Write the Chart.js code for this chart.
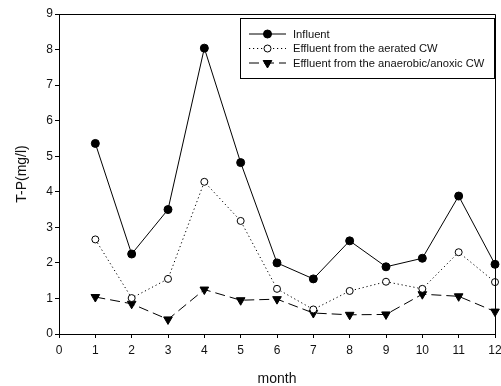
<!DOCTYPE html>
<html>
<head>
<meta charset="utf-8">
<script src="https://cdn.jsdelivr.net/npm/chart.js@4/dist/chart.umd.min.js"></script>
<style>
  html, body { margin: 0; padding: 0; background: #fff; }
  #wrap { width: 501px; height: 386px; }
</style>
</head>
<body>
<div id="wrap"><canvas id="c" width="501" height="386"></canvas></div>
<script>
const months = [1, 2, 3, 4, 5, 6, 7, 8, 9, 10, 11, 12];
const influent = [5.36, 2.25, 3.50, 8.04, 4.82, 2.00, 1.55, 2.62, 1.89, 2.13, 3.88, 1.96];
const aerated = [2.66, 1.01, 1.55, 4.28, 3.18, 1.27, 0.69, 1.21, 1.47, 1.27, 2.30, 1.46];
const anaerobic = [1.04, 0.85, 0.41, 1.25, 0.95, 0.98, 0.59, 0.54, 0.55, 1.12, 1.06, 0.63];

const seriesNames = [
  'Influent',
  'Effluent from the aerated CW',
  'Effluent from the anaerobic/anoxic CW',
];

function toPoints(values) {
  return months.map((m, i) => ({ x: m, y: values[i] }));
}

// frame on top and right + the boxed legend inside the plot
const framePlugin = {
  id: 'frame',
  afterDraw(chart) {
    const { ctx, chartArea: a } = chart;
    ctx.save();
    ctx.strokeStyle = '#000';
    ctx.lineWidth = 1;
    ctx.beginPath();
    ctx.moveTo(Math.round(a.left) + 0.5, Math.round(a.top) + 0.5);
    ctx.lineTo(Math.round(a.right) + 0.5, Math.round(a.top) + 0.5);
    ctx.lineTo(Math.round(a.right) + 0.5, Math.round(a.bottom) + 0.5);
    ctx.stroke();

    // legend box
    const bx = 240.5, by = 18.5, bw = 254, bh = 60;
    ctx.fillStyle = '#fff';
    ctx.fillRect(bx, by, bw, bh);
    ctx.strokeRect(bx, by, bw, bh);

    ctx.font = '11.2px "Liberation Sans", Arial, sans-serif';
    ctx.textBaseline = 'middle';
    chart.data.datasets.forEach((ds, i) => {
      const y = 34 + i * 14.5;
      ctx.strokeStyle = '#000';
      ctx.lineWidth = 1;
      ctx.setLineDash(ds.borderDash || []);
      ctx.beginPath();
      ctx.moveTo(249, y);
      ctx.lineTo(286, y);
      ctx.stroke();
      ctx.setLineDash([]);
      ctx.fillStyle = ds.pointBackgroundColor;
      ctx.strokeStyle = ds.pointBorderColor;
      Chart.helpers.drawPoint(ctx, {
        pointStyle: ds.pointStyle,
        radius: ds.pointRadius,
        rotation: ds.pointRotation || 0,
        borderWidth: ds.pointBorderWidth,
      }, 267.5, y);
      ctx.fillStyle = '#111';
      ctx.fillText(ds.label, 293, y + 0.5);
    });
    ctx.restore();
  },
};

new Chart(document.getElementById('c').getContext('2d'), {
  type: 'line',
  data: {
    datasets: [
      {
        label: seriesNames[0],
        data: toPoints(influent),
        borderColor: '#000',
        borderWidth: 1,
        pointStyle: 'circle',
        pointRadius: 4,
        pointBackgroundColor: '#000',
        pointBorderColor: '#000',
        pointBorderWidth: 1,
        clip: false,
      },
      {
        label: seriesNames[1],
        data: toPoints(aerated),
        borderColor: '#000',
        borderWidth: 1,
        borderDash: [1.2, 2.8],
        pointStyle: 'circle',
        pointRadius: 3.5,
        pointBackgroundColor: '#fff',
        pointBorderColor: '#000',
        pointBorderWidth: 1,
        clip: false,
      },
      {
        label: seriesNames[2],
        data: toPoints(anaerobic),
        borderColor: '#000',
        borderWidth: 1,
        borderDash: [10, 5],
        pointStyle: 'triangle',
        pointRotation: 180,
        pointRadius: 5,
        pointBackgroundColor: '#000',
        pointBorderColor: '#000',
        pointBorderWidth: 1,
        clip: false,
      },
    ],
  },
  options: {
    animation: false,
    responsive: false,
    events: [],
    layout: { padding: { left: 0, right: 4, top: 14, bottom: 0 } },
    elements: { line: { tension: 0 } },
    scales: {
      x: {
        type: 'linear',
        min: 0,
        max: 12,
        ticks: {
          stepSize: 1,
          color: '#111',
          padding: 5,
          maxRotation: 0,
          font: { family: '"Liberation Sans", Arial, sans-serif', size: 12 },
        },
        grid: { drawOnChartArea: false, drawTicks: true, tickLength: 4, color: '#000' },
        border: { color: '#000', width: 1 },
        title: {
          display: true,
          text: 'month',
          color: '#111',
          padding: { top: 0, bottom: 0 },
          font: { family: '"Liberation Sans", Arial, sans-serif', size: 14, lineHeight: 1 },
        },
        afterFit(scale) {
          scale.height = 52;
          scale.paddingLeft = 0;
          scale.paddingRight = 0;
        },
      },
      y: {
        min: 0,
        max: 9,
        ticks: {
          stepSize: 1,
          color: '#111',
          padding: 2,
          font: { family: '"Liberation Sans", Arial, sans-serif', size: 12 },
        },
        grid: { drawOnChartArea: false, drawTicks: true, tickLength: 4, color: '#000' },
        border: { color: '#000', width: 1 },
        title: {
          display: true,
          text: 'T-P(mg/l)',
          color: '#111',
          padding: { top: 14, bottom: 0 },
          font: { family: '"Liberation Sans", Arial, sans-serif', size: 14, lineHeight: 1.2 },
        },
        afterFit(scale) {
          scale.width = 59;
          scale.paddingTop = 0;
          scale.paddingBottom = 0;
        },
      },
    },
    plugins: {
      legend: { display: false },
      tooltip: { enabled: false },
    },
  },
  plugins: [framePlugin],
});
</script>
</body>
</html>
